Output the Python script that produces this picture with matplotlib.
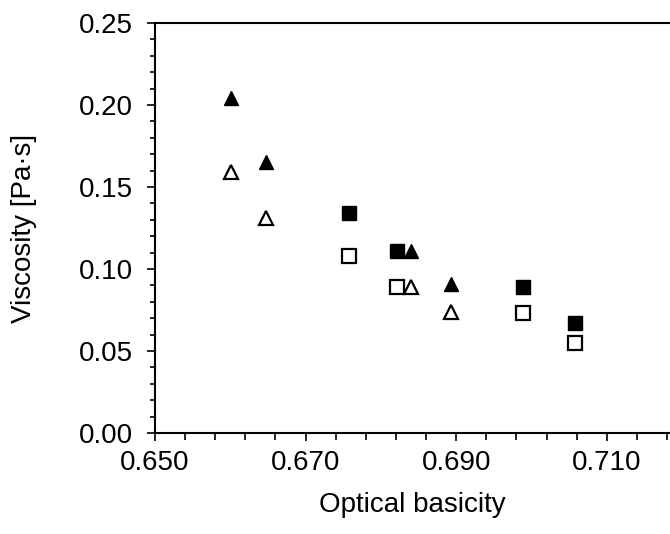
import matplotlib
matplotlib.use("Agg")
import matplotlib.pyplot as plt
from matplotlib.ticker import MultipleLocator, FormatStrFormatter

plt.rcParams['font.family'] = ['Liberation Sans', 'DejaVu Sans']

# optical basicity of each slag
basicity_tri = [0.6601, 0.6648, 0.6840, 0.6893]
basicity_sq = [0.6758, 0.6821, 0.6989, 0.7058]

# viscosity [Pa*s]
visc_tri_filled = [0.204, 0.165, 0.111, 0.091]
visc_tri_open = [0.159, 0.131, 0.089, 0.074]
visc_sq_filled = [0.134, 0.111, 0.089, 0.067]
visc_sq_open = [0.108, 0.089, 0.073, 0.055]

fig = plt.figure(figsize=(6.7, 5.34), dpi=100)
ax = fig.add_axes([0.2313, 0.1891, 0.7687, 0.7678])

ms = 10
ax.plot(basicity_tri, visc_tri_filled, '^', ms=ms, color='black', clip_on=False)
ax.plot(basicity_tri, visc_tri_open, '^', ms=ms, mfc='white', mec='black', mew=1.6, clip_on=False)
ax.plot(basicity_sq, visc_sq_filled, 's', ms=ms, color='black', clip_on=False)
ax.plot(basicity_sq, visc_sq_open, 's', ms=ms, mfc='white', mec='black', mew=1.6, clip_on=False)

ax.set_xlim(0.650, 0.7184)
ax.set_ylim(0.0, 0.25)

ax.xaxis.set_major_locator(MultipleLocator(0.02, offset=0.01))
ax.xaxis.set_minor_locator(MultipleLocator(0.004, offset=0.002))
ax.xaxis.set_major_formatter(FormatStrFormatter('%.3f'))
ax.yaxis.set_major_locator(MultipleLocator(0.05))
ax.yaxis.set_minor_locator(MultipleLocator(0.01))
ax.yaxis.set_major_formatter(FormatStrFormatter('%.2f'))

ax.spines['right'].set_visible(False)
for s in ['left', 'bottom', 'top']:
    ax.spines[s].set_linewidth(1.5)

ax.tick_params(axis='both', which='major', direction='out', length=6, width=1.2,
               labelsize=20, colors='black')
ax.tick_params(axis='x', which='minor', direction='out', length=5, width=1.2)
ax.tick_params(axis='y', which='minor', direction='out', length=3.5, width=1.2)
ax.tick_params(axis='y', which='major', pad=10)
ax.tick_params(axis='x', which='major', pad=6)

ax.set_xlabel("Optical basicity", fontsize=20, labelpad=12)
ax.set_ylabel("Viscosity [Pa·s]", fontsize=20)
ax.yaxis.set_label_coords(-0.23, 0.5)

fig.savefig("out.png", dpi=100)
